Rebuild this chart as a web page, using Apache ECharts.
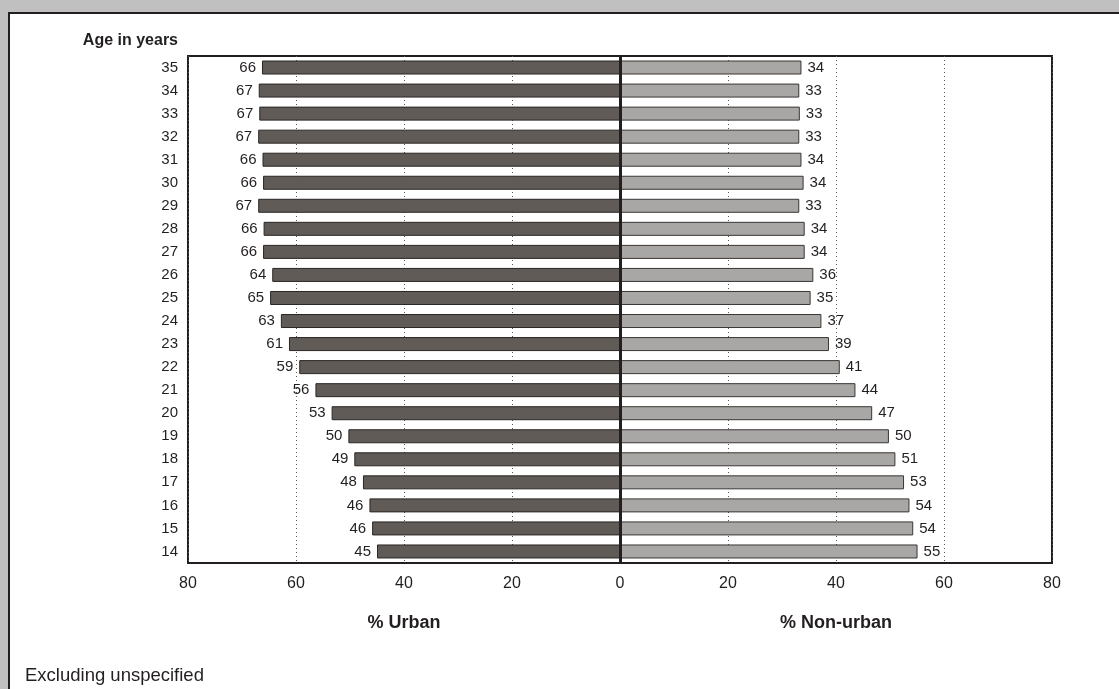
<!DOCTYPE html>
<html>
<head>
<meta charset="utf-8">
<script src="https://cdn.jsdelivr.net/npm/echarts@6/dist/echarts.min.js"></script>
<style>
  html, body { margin: 0; padding: 0; width: 1119px; height: 689px; background: #c0c0c0; overflow: hidden; }
  #panel { position: absolute; left: 8px; top: 12px; right: 0; bottom: 0; background: #ffffff;
           border-left: 2px solid #231f20; border-top: 2px solid #231f20; }
  #chart { position: absolute; left: 0; top: 0; width: 1119px; height: 689px; }
</style>
</head>
<body>
<div id="panel"></div>
<div id="chart"></div>
<script>
// Age categories (top to bottom)
const ages = ['35','34','33','32','31','30','29','28','27','26','25','24','23','22','21','20','19','18','17','16','15','14'];
// % Urban
const urban = [66.3, 66.9, 66.8, 67.0, 66.2, 66.1, 67.0, 66.0, 66.1, 64.4, 64.8, 62.8, 61.3, 59.4, 56.4, 53.4, 50.3, 49.2, 47.6, 46.4, 45.9, 45.0];
// % Non-urban
const nonUrban = [33.6, 33.2, 33.3, 33.2, 33.6, 34.0, 33.2, 34.2, 34.2, 35.8, 35.3, 37.3, 38.7, 40.7, 43.6, 46.7, 49.8, 51.0, 52.6, 53.6, 54.3, 55.1];
// x-axis ticks
const xTicks = { min: -80, max: 80, interval: 20 };

const TXT = '#231f20';
const FONT = '"Liberation Sans", Arial, sans-serif';

const chart = echarts.init(document.getElementById('chart'), null, { renderer: 'canvas' });
chart.setOption({
  backgroundColor: 'transparent',
  animation: false,
  textStyle: { fontFamily: FONT, color: TXT },
  grid: { left: 188, right: 67, top: 56, bottom: 126, show: true, borderColor: TXT, borderWidth: 2, backgroundColor: 'transparent' },
  xAxis: {
    type: 'value', min: xTicks.min, max: xTicks.max, interval: xTicks.interval,
    axisLine: { show: false }, axisTick: { show: false },
    axisLabel: { margin: 13, fontSize: 16, color: TXT, fontFamily: FONT, formatter: v => String(Math.abs(v)) },
    splitLine: { show: true, lineStyle: { type: [1, 3], color: '#555555', width: 1 } }
  },
  yAxis: {
    type: 'category', data: ages, inverse: true,
    axisLine: { show: false }, axisTick: { show: false },
    axisLabel: { margin: 10, fontSize: 15, color: TXT, fontFamily: FONT },
    splitLine: { show: false }
  },
  series: [
    {
      name: '% Urban', type: 'bar', barWidth: 14, barGap: '-100%',
      data: urban.map(v => -v),
      itemStyle: { color: '#605b57', borderColor: '#2a2624', borderWidth: 1 },
      label: { show: true, position: 'left', distance: 6, fontSize: 15, color: TXT, fontFamily: FONT,
               formatter: p => String(Math.round(Math.abs(p.value))) },
      markLine: {
        silent: true, symbol: 'none', label: { show: false },
        lineStyle: { color: TXT, width: 3, type: 'solid' },
        data: [{ xAxis: 0 }]
      },
      z: 3
    },
    {
      name: '% Non-urban', type: 'bar', barWidth: 14,
      data: nonUrban,
      itemStyle: { color: '#a8a7a5', borderColor: '#3a3634', borderWidth: 1 },
      label: { show: true, position: 'right', distance: 6, fontSize: 15, color: TXT, fontFamily: FONT,
               formatter: p => String(Math.round(p.value)) },
      z: 3
    }
  ],
  graphic: [
    { type: 'text', x: 178, y: 41, style: { text: 'Age in years', fill: TXT, font: 'bold 16px ' + FONT, textAlign: 'right', textVerticalAlign: 'middle' } },
    { type: 'text', x: 404, y: 623, style: { text: '% Urban', fill: TXT, font: 'bold 18px ' + FONT, textAlign: 'center', textVerticalAlign: 'middle' } },
    { type: 'text', x: 836, y: 623, style: { text: '% Non-urban', fill: TXT, font: 'bold 18px ' + FONT, textAlign: 'center', textVerticalAlign: 'middle' } },
    { type: 'text', x: 25, y: 676, style: { text: 'Excluding unspecified', fill: TXT, font: '18.5px ' + FONT, textAlign: 'left', textVerticalAlign: 'middle' } }
  ]
});
</script>
</body>
</html>
